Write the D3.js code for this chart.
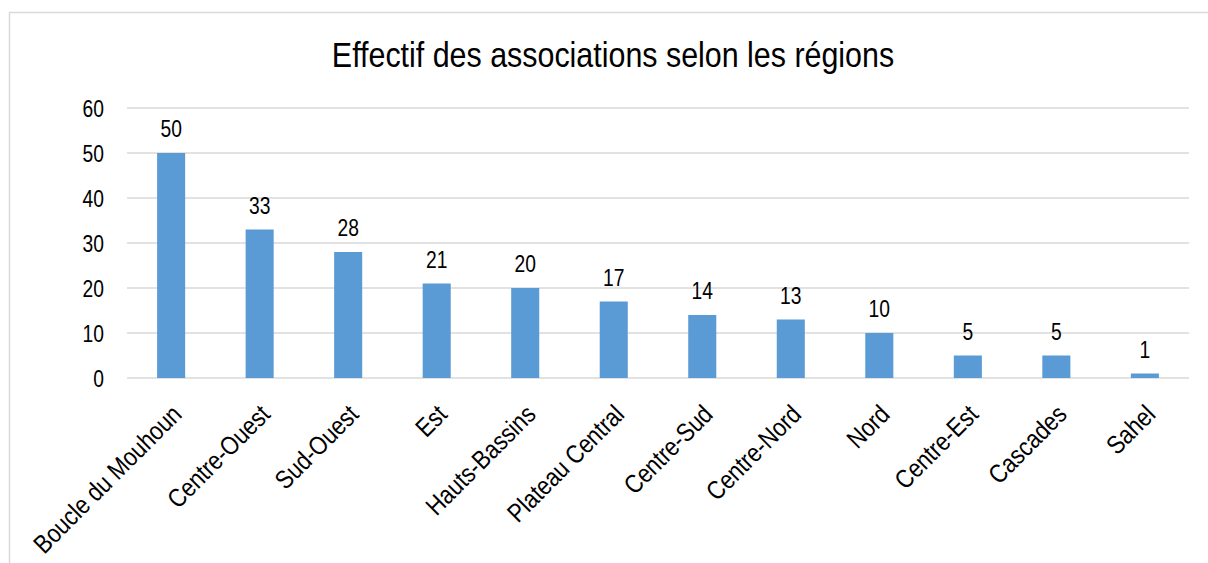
<!DOCTYPE html>
<html><head><meta charset="utf-8">
<script src="https://cdn.jsdelivr.net/npm/d3@7"></script>
<style>
html,body{margin:0;padding:0;background:#fff;}
svg{display:block;font-family:"Liberation Sans Narrow","Arial Narrow","Liberation Sans",Arial,sans-serif;}
</style></head>
<body>
<svg id="chart" width="1208" height="563"></svg>
<script>
const categories = ["Boucle du Mouhoun","Centre-Ouest","Sud-Ouest","Est","Hauts-Bassins","Plateau Central","Centre-Sud","Centre-Nord","Nord","Centre-Est","Cascades","Sahel"];
const values = [50,33,28,21,20,17,14,13,10,5,5,1];
const yTicks = [0,10,20,30,40,50,60];
const title = "Effectif des associations selon les régions";

const svg = d3.select("#chart");
const W = 1208, H = 563;
const m = {left:127, right:1189, top:108, bottom:378};
const SX = 0.82; // narrow-font emulation

// chart frame
svg.append("path").attr("d", `M9.5,${H} L9.5,12.5 L${W},12.5`)
  .attr("fill","none").attr("stroke","#d9d9d9").attr("stroke-width",1.5);

const x = d3.scaleBand().domain(categories).range([m.left, m.right]).paddingInner(0.683).paddingOuter(0.34);
const y = d3.scaleLinear().domain([0,60]).range([m.bottom, m.top]);

// gridlines
svg.append("g").selectAll("line").data(yTicks).join("line")
  .attr("x1", m.left).attr("x2", m.right)
  .attr("y1", d=>y(d)).attr("y2", d=>y(d))
  .attr("stroke","#d9d9d9").attr("stroke-width",1.5);

// y axis labels
const yAxis = d3.axisLeft(y).tickValues(yTicks).tickSize(0).tickPadding(0);
const gy = svg.append("g").attr("transform",`translate(${m.left-23},0)`).call(yAxis);
gy.select(".domain").remove();
gy.selectAll("text").attr("font-size",23.5).attr("fill","#000").attr("font-family",null)
  .attr("x",0).attr("dy","0.36em").attr("transform",`scale(${SX},1)`);

// bars
svg.append("g").selectAll("rect").data(categories).join("rect")
  .attr("x", d=>x(d)).attr("width", x.bandwidth())
  .attr("y", (d,i)=>y(values[i])).attr("height", (d,i)=>y(0)-y(values[i]))
  .attr("fill","#5b9bd5");

// value labels
svg.append("g").selectAll("text").data(categories).join("text")
  .attr("transform", (d,i)=>`translate(${x(d)+x.bandwidth()/2},${y(values[i]) - 16}) scale(${SX},1)`)
  .attr("text-anchor","middle").attr("font-size",23.5).attr("fill","#000")
  .text((d,i)=>values[i]);

// x axis labels
const xAxis = d3.axisBottom(x).tickSize(0).tickPadding(0);
const gx = svg.append("g").attr("transform",`translate(0,${m.bottom})`).call(xAxis);
gx.select(".domain").remove();
gx.selectAll("text")
  .attr("font-size",26).attr("fill","#000").attr("font-family",null)
  .attr("text-anchor","end")
  .attr("dy",null).attr("y",0).attr("x",0)
  .attr("transform",`translate(12,38) rotate(-45) scale(0.85,1)`);

// title
svg.append("text").attr("transform",`translate(613,67) scale(0.845,1)`).attr("text-anchor","middle")
  .attr("font-size",36).attr("fill","#000").text(title);
</script>
</body></html>
